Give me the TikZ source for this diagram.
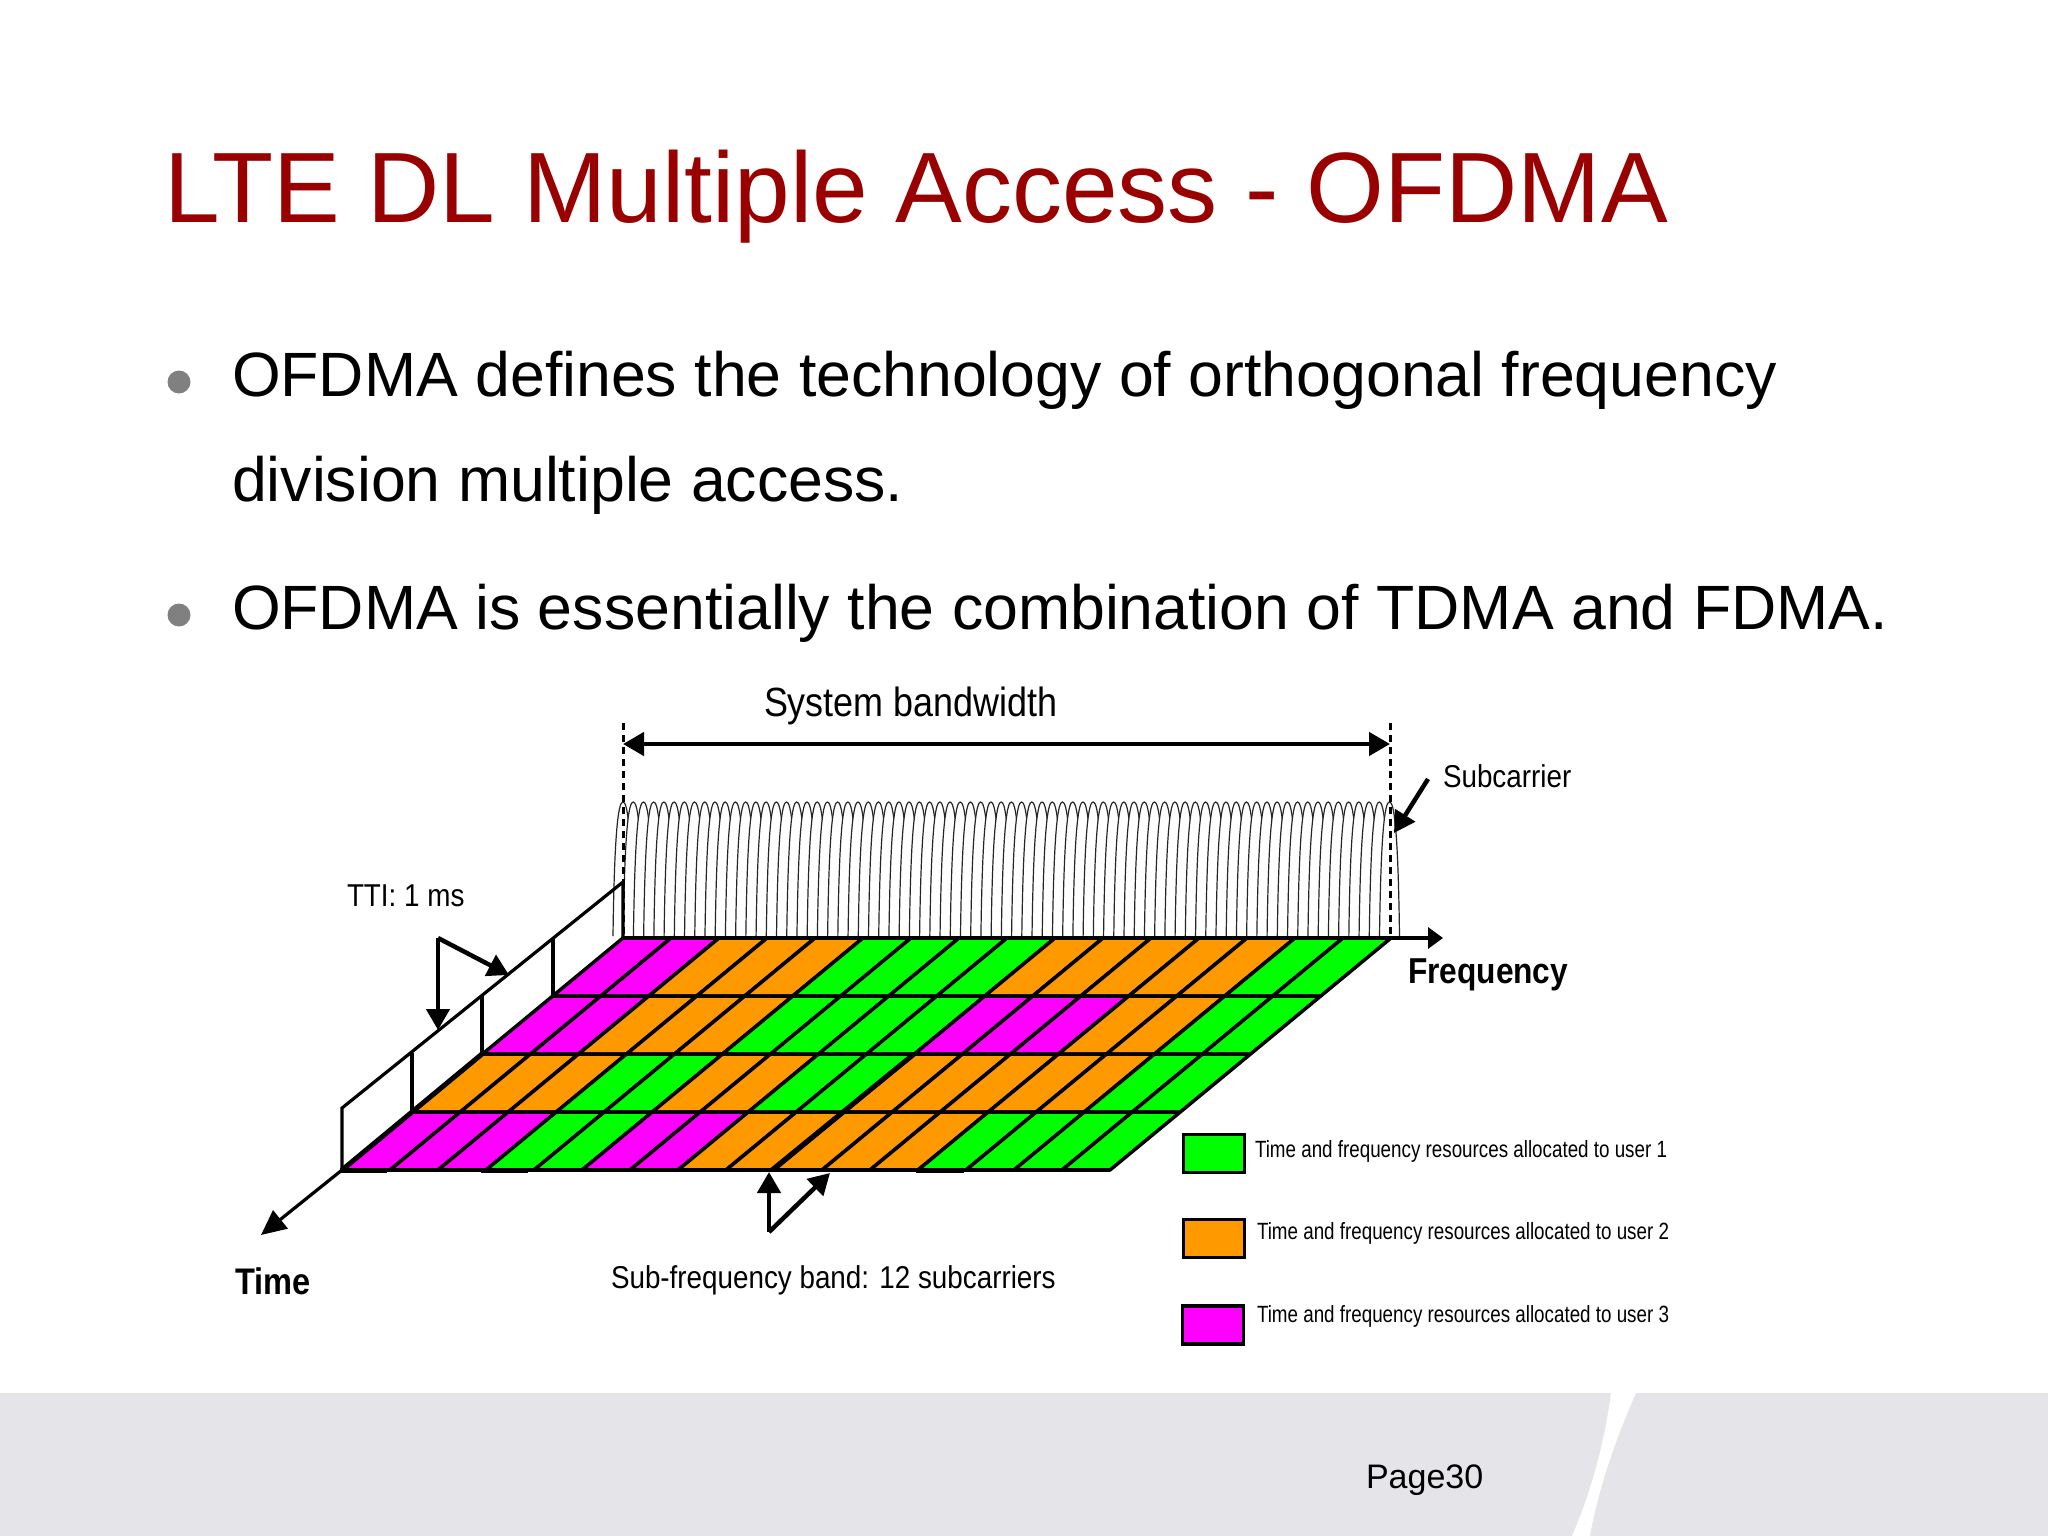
\documentclass[tikz,border=0pt]{standalone}
\usepackage{fontspec}
\setmainfont{Liberation Sans}
\newfontfamily\narrowfont[FakeStretch=0.88]{Liberation Sans}
\newfontfamily\keyfont[FakeStretch=0.8]{Liberation Sans}
\usetikzlibrary{arrows.meta,positioning}
\definecolor{usera}{HTML}{00FF00}
\definecolor{userb}{HTML}{FF9900}
\definecolor{userc}{HTML}{FF00FF}
\definecolor{titlered}{HTML}{990000}
\definecolor{footgray}{HTML}{E5E4E8}
\tikzset{
  txt/.style={anchor=base west,inner sep=0pt,outer sep=0pt},
  tag/.style={txt,font=\narrowfont\fontsize{31.6}{32}\selectfont},
  keytag/.style={txt,font=\keyfont\fontsize{23.5}{24}\selectfont},
  axistag/.style={txt,font=\narrowfont\bfseries\fontsize{36}{36}\selectfont},
  body/.style={txt,font=\fontsize{62.6}{63}\selectfont},
  dot/.style={circle,fill=black!50,inner sep=0pt,minimum size=23pt},
  cell/.style={draw=black,line width=3.5pt,line join=round},
  swatch/.style={rectangle,draw=black,line width=3.5pt,minimum width=61pt,minimum height=38pt,inner sep=0pt},
  arr/.style={->,line width=4.5pt},
  axis/.style={line width=3.2pt},
  edge/.style={line width=3pt,dash pattern=on 7pt off 5pt}
}
\newcommand{\key}[5]{\node(#1)[swatch,fill=#2] at (#3){};
  \node(#1t)[keytag] at (#4){Time and frequency resources allocated to user #5};}

\begin{document}
\begin{tikzpicture}[x=1pt,y=-1pt,>={Triangle[length=21pt,width=23pt]}]
\useasboundingbox (0,0) rectangle (2048,1536);
\fill[white] (0,0) rectangle (2048,1536);

% footer
\fill[footgray] (0,1393) rectangle (2048,1536);
\fill[white] (1611,1393) .. controls (1605,1440) and (1592,1490) .. (1572,1536) -- (1590,1536) .. controls (1598,1490) and (1615,1440) .. (1636,1393) -- cycle;
\node(page)[txt,font=\fontsize{34}{35}\selectfont] at (1366,1488){Page30};

% title and bullets
\node(title)[txt,font=\fontsize{100}{100}\selectfont,text=titlered] at (164,222){LTE DL Multiple Access - OFDMA};
\node(dota)[dot] at (179,382){};
\node(linea)[body] at (232,396){OFDMA defines the technology of orthogonal frequency};
\node(lineb)[body] at (232,501){division multiple access.};
\node(dotb)[dot] at (179,615){};
\node(linec)[body] at (232,629){OFDMA is essentially the combination of TDMA and FDMA.};

% subcarriers
\foreach \n in {0,...,75}{
  \pgfmathsetmacro{\px}{623+10.22*\n}
  \draw[line width=1.2pt,black!85,fill=white] (\px-10,936) .. controls (\px-8.5,822) and (\px-4,802) .. (\px,802) .. controls (\px+4,802) and (\px+8.5,822) .. (\px+10,936);
}

\coordinate (tl) at (623,938);
\coordinate (tr) at (1391,938);
\coordinate (bl) at (342,1170);
\coordinate (br) at (1110,1170);
\coordinate (bwl) at (623,744);
\coordinate (bwr) at (1390,744);

% axes and bandwidth
\draw[edge] (623,723) -- (tl);
\draw[edge] (1390,723) -- (1390,938);
\draw[<->,line width=4.5pt] (bwl) -- (bwr);
\draw[axis,-{Triangle[length=15pt,width=21pt]}] (tr) -- (1443,938) coordinate (fend);
\draw[axis,-{Triangle[length=25pt,width=23pt]}] (bl) -- (261,1235) coordinate (tend);

% grid
\foreach \r/\slots in {0/{c,c,b,b,b,a,a,a,a,b,b,b,b,b,a,a},
                       1/{c,c,b,b,b,a,a,a,a,c,c,c,b,b,a,a},
                       2/{b,b,b,a,a,b,b,a,a,b,b,b,b,b,a,a},
                       3/{c,c,c,a,a,c,c,b,b,b,b,b,a,a,a,a}}{
  \foreach \c [count=\k from 0] in \slots{
    \path[cell,fill=user\c] (623-70.25*\r+48*\k,938+58*\r) -- ++(48,0) -- ++(-70.25,58) -- ++(-48,0) -- cycle;
  }
}
\draw[line width=5pt] (bl) -- (482,1054);
\draw[line width=5pt] (772,1170) -- (914,1054);
\draw[line width=4.5pt] (bl) -- (br);
\draw[line width=4pt] (tl) -- (tr);
\foreach \a/\b in {340/387,481/528,916/964}
  \draw[line width=5pt] (\a,1170.5) -- (\b,1170.5);

% TTI boxes
\coordinate (ttia) at (342,1108);
\coordinate (ttib) at (623,882);
\draw[axis] (bl) -- (ttia) -- (ttib) -- (tl);
\draw[axis] (412,1111) -- (412,1053);
\draw[axis] (482,1054) -- (482,995);
\draw[axis] (553,996) -- (553,938);

% markers
\coordinate (ttibase) at (438,938);
\draw[arr] (ttibase) -- (438,1030);
\draw[arr] (ttibase) -- (509,975);
\coordinate (subbase) at (769,1232);
\draw[arr] (subbase) -- (769,1172);
\draw[arr] (subbase) -- (830,1173);
\draw[arr] (1428,779) -- (1394,833);

% labels
\node(sysbw)[tag,font=\narrowfont\fontsize{40.8}{41}\selectfont] at (764,716){System bandwidth};
\node(subc)[tag] at (1443,787){Subcarrier};
\node(tti)[tag] at (347,906){TTI: 1 ms};
\node(freq)[axistag] at (1408,983){Frequency};
\node(time)[axistag,font=\narrowfont\bfseries\fontsize{37}{37}\selectfont] at (235,1294){Time};
\node(subband)[tag] at (611,1288){Sub-frequency band: 12 subcarriers};

\key{keya}{usera}{1214,1153.5}{1255,1157}{1}
\key{keyb}{userb}{1214,1238.5}{1257,1239}{2}
\key{keyc}{userc}{1213,1325}{1257,1322}{3}
\end{tikzpicture}
\end{document}
